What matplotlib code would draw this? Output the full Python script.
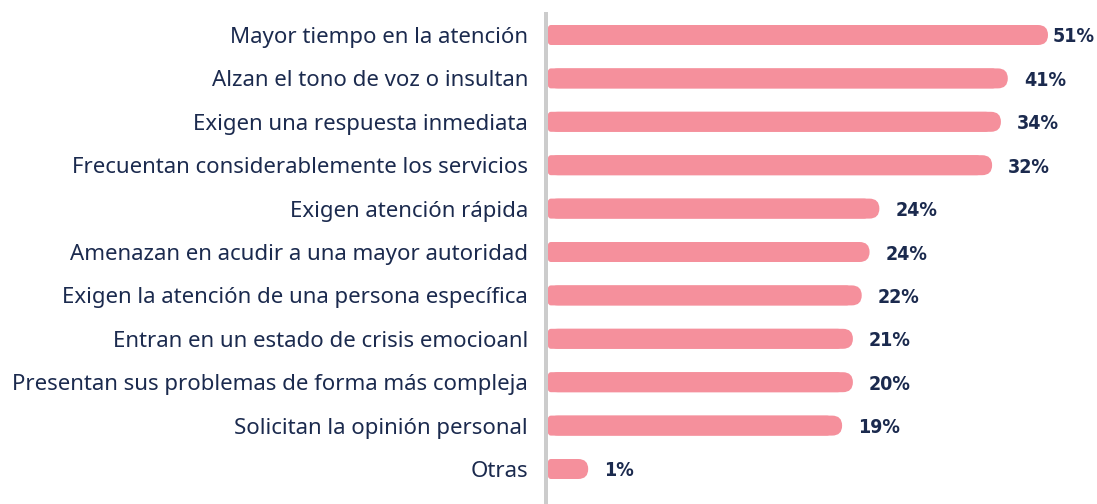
import matplotlib
matplotlib.use("Agg")
import matplotlib.pyplot as plt
from matplotlib.patches import FancyBboxPatch

# Data
categories = [
    "Mayor tiempo en la atención",
    "Alzan el tono de voz o insultan",
    "Exigen una respuesta inmediata",
    "Frecuentan considerablemente los servicios",
    "Exigen atención rápida",
    "Amenazan en acudir a una mayor autoridad",
    "Exigen la atención de una persona específica",
    "Entran en un estado de crisis emocioanl",
    "Presentan sus problemas de forma más compleja",
    "Solicitan la opinión personal",
    "Otras",
]
pct_labels = ["51%", "41%", "34%", "32%", "24%", "24%", "22%", "21%", "20%", "19%", "1%"]
# bar lengths as drawn in the original (same scale as 51%)
bar_values = [51, 46.9, 46.2, 45.3, 33.8, 32.8, 32.0, 31.1, 31.1, 30.0, 4.1]

bar_color = "#F5909C"
text_color = "#1B2A4E"
axis_color = "#CCCCCC"

W, H = 1097, 504
fig = plt.figure(figsize=(W / 100, H / 100), dpi=100)

ax_left = 546
ax = fig.add_axes([ax_left / W, 0, (W - ax_left) / W, 1])

px_per_x = 500 / 51          # pixels per percent unit
row_px = 43.4                # row spacing in pixels
top_px = 35                  # centre of first row from top
n = len(categories)

x_lo = -2 / px_per_x
x_hi = x_lo + (W - ax_left) / px_per_x
ax.set_xlim(x_lo, x_hi)
ax.set_ylim((n - 1) + (H - (top_px + (n - 1) * row_px)) / row_px, -top_px / row_px)

x_per_px = 1 / px_per_x
y_per_px = 1 / row_px
aspect = y_per_px / x_per_px
bar_h = 20 * y_per_px

renderer = fig.canvas.get_renderer()
for i, v in enumerate(bar_values):
    y0 = i - bar_h / 2
    # fully rounded right end
    ax.add_patch(FancyBboxPatch((0, y0), v, bar_h,
                                boxstyle=f"round,pad=0,rounding_size={10 * x_per_px}",
                                mutation_aspect=aspect, fc=bar_color, ec="none"))
    # slightly rounded left corners
    ax.add_patch(FancyBboxPatch((0, y0), max(v - 12 * x_per_px, 0.1), bar_h,
                                boxstyle=f"round,pad=0,rounding_size={3 * x_per_px}",
                                mutation_aspect=aspect, fc=bar_color, ec="none"))
    t = ax.annotate(pct_labels[i], xy=(v, i), xytext=(16, -2), textcoords="offset pixels",
                    ha="left", va="center", fontsize=14, fontweight="bold",
                    fontstretch="condensed", color=text_color, family="DejaVu Sans")
    # keep the label inside the figure
    over = t.get_window_extent(renderer).x1 - (W - 2)
    if over > 0:
        t.set_position((16 - over, -2))

ax.set_yticks(range(n), labels=categories)
ax.tick_params(axis="y", length=0, pad=13, labelsize=16, labelcolor=text_color)
for lab in ax.get_yticklabels():
    lab.set_family(["Noto Sans", "DejaVu Sans"])
ax.set_xticks([])
for s in ax.spines.values():
    s.set_visible(False)

ax.axvline(x_lo, ymin=0, ymax=1 - 14 / H, color=axis_color, lw=4 * 72 / 100,
           clip_on=False, zorder=0)

fig.savefig("out.png", dpi=100, facecolor="white")
